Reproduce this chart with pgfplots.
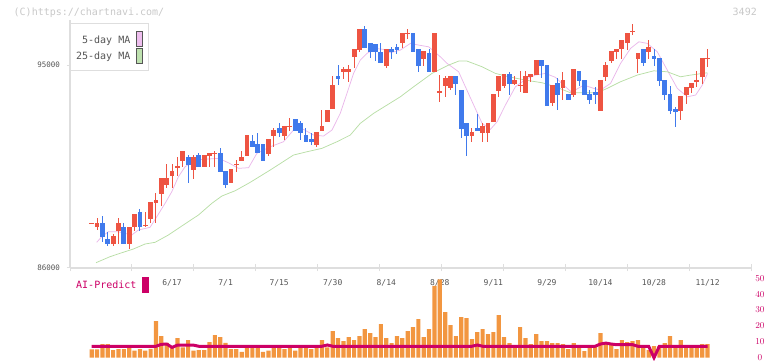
\documentclass[border=0pt]{standalone}
\usepackage{pgfplots}
\pgfplotsset{compat=1.18}
\usepackage{pgfplotstable}
\usepackage{fontspec}
\setmainfont{DejaVu Sans}
\newfontfamily\mono{DejaVu Sans Mono}
\newcommand\fs[1]{\fontsize{#1pt}{#1pt}\selectfont}
\definecolor{cred}{RGB}{238,84,66}
\definecolor{cblue}{RGB}{64,122,236}
\definecolor{pinkma}{RGB}{234,184,234}
\definecolor{greenma}{RGB}{184,222,166}
\definecolor{vorange}{RGB}{242,150,64}
\definecolor{crimson}{RGB}{204,0,102}
\definecolor{axisgray}{RGB}{222,222,222}
\definecolor{labgray}{RGB}{85,85,85}
\definecolor{lightgr}{RGB}{200,200,200}
\definecolor{pinksw}{RGB}{238,190,238}
\definecolor{greensw}{RGB}{190,225,175}

\pgfplotstableread{
i o h l c
0 87980 88000 87960 87980
1 87800 88200 87685 87980
4 87064 87507 86989 87419
5 87640 88203 87064 87982
7 87064 87804 86842 87804
8 87804 88394 87640 88394
10 87893 88469 87804 87893
11 88172 88926 87982 88926
12 88895 89325 87982 89015
13 89281 89990 88762 89990
14 89680 90624 89560 89990
15 90092 90624 89560 90300
16 90491 90908 90092 90491
17 90744 91187 90491 91187
19 90358 91023 89959 90921
21 90491 91023 90491 91023
22 90979 91112 90491 91085
23 91085 91187 90491 91085
26 89782 90389 89782 90389
27 90611 90788 90269 90611
28 90744 91187 90744 90908
29 90979 91897 90979 91897
33 91054 91719 90979 91719
34 91865 92220 91378 92118
36 91865 92296 91675 92296
37 92296 92664 92074 92296
42 91453 92016 91378 92016
43 92074 93005 92074 92296
44 92486 93005 92486 93005
45 93049 94512 93049 94113
47 94676 94925 94379 94823
48 94676 95000 94260 94823
49 95341 95696 94853 95696
50 95665 96596 95563 96596
55 94969 95709 94853 95709
58 95989 96405 95767 96405
59 96405 96596 96153 96405
62 95266 95621 94969 95621
64 94703 96432 94703 96432
65 93816 94557 93373 93816
66 94082 94526 93594 94437
67 93993 94512 93892 94512
71 91865 92194 91600 92016
73 91999 92415 91600 92296
74 91999 92415 91600 92415
75 92486 93714 92486 93714
76 93861 94512 93594 94512
77 94082 94601 93993 94601
79 94157 94512 94113 94335
80 94113 94734 93816 94113
81 93772 94734 93772 94512
82 94481 94601 94233 94601
83 94557 95222 94557 95222
86 93302 94113 93196 94113
88 93993 94703 93448 94335
90 93670 94823 93594 94823
95 92974 94335 92974 94335
96 94481 95119 94304 95000
97 95177 95621 95075 95621
98 95590 95709 95266 95709
99 95696 96108 95266 96108
100 95989 96405 95665 96405
101 96507 96817 96330 96507
102 95266 95519 94632 95519
104 95590 96108 95266 95785
110 92974 93626 92562 93626
111 93670 94011 93271 94011
112 93993 94216 93772 94216
113 94304 94734 94038 94304
114 94481 95324 94157 95324
115 95297 95709 94925 95297
}\redtab

\pgfplotstableread{
i o h l c
2 87980 88305 87166 87388
3 87286 87583 86989 87064
6 87804 87982 87064 87064
9 88469 88616 87640 87804
18 90921 91023 89782 90566
20 91023 91085 90491 90491
24 91085 91320 90269 90269
25 90300 90300 89560 89680
30 91630 91897 91378 91378
31 91498 91999 91085 91085
32 91498 91498 90757 90757
35 92220 92415 91795 91999
38 92606 92606 92074 92074
39 92415 92517 91675 91999
40 91897 92194 91600 91600
41 91719 91999 91453 91600
46 94512 95000 94113 94379
51 96596 96729 95767 95767
52 95989 95989 95297 95590
53 95931 95931 95177 95590
54 95590 95989 95075 95075
56 95696 95811 95266 95563
57 95785 95931 95474 95665
60 96405 96405 95590 95590
61 95709 95709 94703 94969
63 95545 95709 94703 94703
68 94512 94512 93670 94157
69 93892 93892 91777 92163
70 92429 92429 90979 91865
72 92220 92814 92087 92087
78 94601 94703 93670 94157
84 95222 95222 94410 94969
85 95000 95000 93196 93196
87 94216 94410 93005 93670
89 93714 93714 93448 93448
91 94734 94734 94082 94304
92 94335 94335 93670 93670
93 93714 93892 93271 93448
94 93816 94038 93271 93670
103 95696 95696 94956 95102
105 95399 95696 94956 95266
106 95297 95297 94082 94304
107 94335 94335 93448 93670
108 93714 94082 92827 92974
109 93036 93151 92264 92903
}\bluetab

\pgfplotstableread{
i v
0 5.2
1 5.2
2 8.6
3 8.6
4 4.8
5 5.4
6 5.4
7 7.3
8 4.4
9 5.4
10 4.4
11 5.6
12 23
13 13.6
14 9.4
15 6.5
16 12.3
17 6.5
18 11.1
19 4.4
20 4.8
21 4.8
22 9.8
23 14.2
24 13
25 9.4
26 5.4
27 5.4
28 3.6
29 6.5
30 7.3
31 6.5
32 3.6
33 4.4
34 7.3
35 6.5
36 5.4
37 6.5
38 4.4
39 6.5
40 7.3
41 5.4
42 7.3
43 11.1
44 6.5
45 16.7
46 12.3
47 10.5
48 13
49 11.1
50 13.6
51 18
52 15.5
53 13
54 21.1
55 12.3
56 9.2
57 13.6
58 12.3
59 16.7
60 19.2
61 24.3
62 13
63 18
64 45.2
65 49.4
66 28.7
67 20.5
68 13.6
69 25.5
70 24.9
71 11.7
72 16.1
73 18
74 14.9
75 16.1
76 26.8
77 13
78 9.2
79 7.9
80 19.2
81 12.3
82 8.6
83 14.9
84 10.5
85 10.5
86 9.2
87 9.2
88 8.6
89 5.4
90 9.2
91 7.3
92 4.2
93 7.3
94 7.3
95 15.5
96 9.2
97 9.2
98 5.4
99 11.1
100 9.8
101 10.5
102 11.1
103 7.3
104 4.8
105 7.3
106 7.3
107 9.2
108 13.6
109 7.3
110 11.1
111 7.3
112 7.3
113 7.3
114 8.6
115 8.6
}\voltab

\begin{document}
\begin{tikzpicture}
\path[use as bounding box] (0pt,0pt) rectangle (772pt,361pt);

\begin{axis}[
  at={(70pt,93pt)}, anchor=south west, scale only axis,
  width=682pt, height=248pt,
  xmin=-4.056, xmax=123.3, ymin=86000, ymax=97000,
  axis x line*=bottom, axis y line*=left,
  axis line style={draw=axisgray, line width=1.2pt},
  xtick={-4.056,7.521,19.098,30.675,42.252,53.829,65.406,76.983,88.560,100.137,111.714,123.291},
  xticklabels={},
  extra x ticks={15,25,35,45,55,65,75,85,95,105,115},
  extra x tick labels={6/17,7/1,7/15,7/30,8/14,8/28,9/11,9/29,10/14,10/28,11/12},
  extra x tick style={major tick length=0pt, tick style={draw=none}},
  ytick={86000,95000}, yticklabels={86000,95000},
  scaled y ticks=false, scaled x ticks=false,
  tick align=center, major tick length=7pt,
  tick style={draw=axisgray, line width=1pt},
  x tick label style={font=\mono\fs{8}, text=labgray, yshift=-8pt},
  y tick label style={font=\mono\fs{7.5}, text=labgray, xshift=-3pt},
]
\addplot[pinkma, line width=0.75pt] coordinates {
(0.93,87139)(1.87,87388)(3.10,87609)(4.97,87609)(7.48,87463)(8.71,87685)(10.90,87804)(12.15,88274)(13.70,88868)(14.95,89383)(16.19,90048)(17.44,90491)(19.31,90788)(21.79,90833)(23.66,90864)(25.53,90668)(27.40,90420)(29.3,90450)(30.84,91085)(33.33,91378)(35.81,91600)(37.68,92118)(39.55,92149)(41.42,91897)(43.29,91852)(44.86,92118)(46.41,92859)(47.66,93745)(48.90,94632)(50.15,95222)(51.40,95519)(52.95,95740)(54.50,95696)(55.76,95545)(57.63,95665)(59.50,95962)(61.05,95887)(62.92,95811)(65.10,95368)(66.36,95075)(68.52,94703)(69.78,94038)(71.33,93227)(72.90,92415)(74.45,92149)(75.70,92486)(77.25,93227)(79.12,94038)(80.99,94366)(82.86,94557)(84.73,94632)(86.60,94455)(88.47,94038)(89.6,93800)(91.89,94113)(93.76,93966)(95.01,93892)(96.88,94189)(98.75,95075)(100.62,95740)(102.17,96033)(103.74,95962)(105.61,95590)(107.48,94778)(109.35,93967)(111.21,93594)(112.77,93670)(114.02,94113)(115,94630)};
\addplot[greenma, line width=0.75pt] coordinates {
(0.8,86235)(3.4,86500)(5.3,86652)(7.78,86842)(9.96,87064)(11.83,87139)(14.32,87463)(16.82,87862)(19.93,88350)(22.43,88868)(24.30,89192)(26.79,89427)(29.6,89800)(33.33,90345)(37.68,91010)(40.19,91156)(42.99,91307)(45.79,91600)(48.28,91896)(50.15,92415)(52.64,92859)(55.14,93227)(57.63,93594)(60.11,94038)(63.55,94632)(66.65,95000)(68.52,95177)(70.09,95177)(72.90,94925)(75.38,94632)(77.87,94481)(80.99,94335)(84.11,94216)(86.60,94038)(89.40,93772)(94.39,93772)(96.26,93967)(98.75,94260)(101.87,94557)(104.97,94747)(107.48,94703)(109.96,94481)(111.83,94557)(114.95,94658)};
% wicks
\addplot[draw=none, mark=none, error bars/.cd, y dir=both, y explicit, error mark=none,
  error bar style={draw=cred, line width=1pt}]
  table[x=i, y expr={(\thisrow{h}+\thisrow{l})/2}, y error expr={(\thisrow{h}-\thisrow{l})/2}] {\redtab};
\addplot[draw=none, mark=none, error bars/.cd, y dir=both, y explicit, error mark=none,
  error bar style={draw=cblue, line width=1pt}]
  table[x=i, y expr={(\thisrow{h}+\thisrow{l})/2}, y error expr={(\thisrow{h}-\thisrow{l})/2}] {\bluetab};
% bodies
\addplot[draw=none, mark=none, error bars/.cd, y dir=both, y explicit, error mark=none,
  error bar style={draw=cred, line width=4.8pt}]
  table[x=i, y expr={(\thisrow{o}+\thisrow{c})/2}, y error expr={max(abs(\thisrow{c}-\thisrow{o})/2,22)}] {\redtab};
\addplot[draw=none, mark=none, error bars/.cd, y dir=both, y explicit, error mark=none,
  error bar style={draw=cblue, line width=4.8pt}]
  table[x=i, y expr={(\thisrow{o}+\thisrow{c})/2}, y error expr={max(abs(\thisrow{c}-\thisrow{o})/2,22)}] {\bluetab};
\end{axis}

\begin{axis}[
  at={(70pt,3.3pt)}, anchor=south west, scale only axis,
  width=682pt, height=79.4pt,
  xmin=-4.056, xmax=123.3, ymin=0, ymax=50,
  hide x axis, axis y line*=right, y axis line style={draw=none},
  ytick={0,10,20,30,40,50}, tick style={draw=none},
  yticklabel style={font=\mono\fs{9}, text=crimson, anchor=center, xshift=8pt},
  clip=false,
]
\addplot[ybar, bar width=4.2pt, bar shift=0pt, fill=vorange, draw=none] table[x=i, y=v] {\voltab};
\addplot[crimson, line width=3pt] coordinates {
(0,7.2)(12,7.2)(13,8.4)(14,8.6)(15,6.5)(16,7.9)(19,7.9)(20,7.2)(43,7.2)(44,8.0)(45,7.2)(71,7.2)(72,8.0)(73,7.2)(94,7.2)(95,8.6)(96,9.2)(97,8.6)(98,8.2)(101,8.2)(102,7.2)(104,7.2)(105,0)(106,7.2)(115,7.2)};
\end{axis}

% legend
\draw[draw=axisgray, fill=white, line width=1pt] (70pt,290pt) rectangle (148pt,337pt);
\node[anchor=east, inner sep=0pt, font=\mono\fs{10}, text=labgray] at (130.5pt,320.5pt) {5-day MA};
\draw[draw=labgray, fill=pinksw, line width=0.8pt] (136.5pt,315pt) rectangle (142.5pt,330pt);
\node[anchor=east, inner sep=0pt, font=\mono\fs{10}, text=labgray] at (130.5pt,304pt) {25-day MA};
\draw[draw=labgray, fill=greensw, line width=0.8pt] (136.5pt,297.7pt) rectangle (142.5pt,312.7pt);

% headers
\node[anchor=west, inner sep=0pt, font=\mono\fs{10}, text=lightgr] at (13.5pt,348.5pt) {(C)https://chartnavi.com/};
\node[anchor=east, inner sep=0pt, font=\mono\fs{10}, text=lightgr] at (757pt,348.7pt) {3492};

% AI-Predict label
\node[anchor=west, inner sep=0pt, font=\mono\fs{10}, text=crimson] at (76pt,76pt) {AI-Predict};
\fill[crimson] (142pt,68pt) rectangle (149pt,84pt);
\end{tikzpicture}
\end{document}
